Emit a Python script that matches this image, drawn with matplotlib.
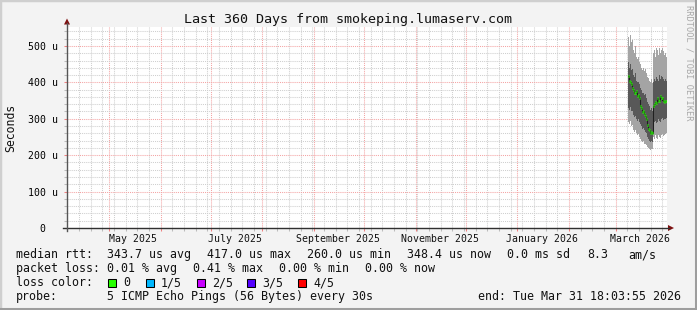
import matplotlib
matplotlib.use("Agg")
import matplotlib.pyplot as plt
import matplotlib.dates as mdates
from matplotlib.ticker import MultipleLocator, FuncFormatter, NullFormatter
from matplotlib.patches import Rectangle, Polygon
from matplotlib.lines import Line2D
from datetime import datetime, timedelta

# ---------------- data ----------------
end_time = datetime(2026, 3, 31, 18, 3, 55)
span_days = 360
start_time = end_time - timedelta(days=span_days)

sample_start = datetime(2026, 3, 8, 12, 0)   # first 12-hour sample
sample_step_hours = 12

# values in microseconds
median_us = [417, 405, 400, 395, 392, 385, 380, 372, 370, 375, 368, 362, 365, 358,
             335, 330, 322, 318, 320, 312, 308, 300, 290, 282, 272, 268, 262, 265, 260, 262,
             335, 340, 345, 342, 352, 358, 350, 348, 362, 358, 352, 356, 350, 345, 350, 348]
outer_hi_us = [525, 500, 530, 510, 495, 515, 490, 480, 500, 470, 485, 465, 470, 455,
               450, 440, 455, 435, 440, 430, 438, 425, 420, 415, 412, 405, 400, 408, 395, 398,
               480, 490, 470, 495, 485, 490, 475, 495, 480, 490, 470, 495, 485, 475, 480, 470]
outer_lo_us = [290, 285, 295, 280, 278, 282, 270, 265, 268, 260, 262, 255, 258, 250,
               245, 240, 242, 235, 238, 232, 230, 228, 225, 222, 220, 218, 215, 218, 213, 216,
               250, 245, 255, 248, 252, 245, 255, 250, 248, 255, 250, 258, 252, 255, 258, 260]
inner_hi_us = [455, 440, 450, 435, 430, 438, 420, 415, 425, 405, 410, 400, 402, 395,
               385, 380, 385, 370, 372, 365, 368, 358, 352, 345, 340, 335, 325, 330, 315, 320,
               400, 410, 405, 415, 412, 410, 405, 420, 410, 418, 412, 415, 410, 405, 410, 405]
inner_lo_us = [330, 325, 332, 320, 318, 322, 310, 305, 308, 300, 302, 295, 298, 290,
               285, 280, 282, 272, 275, 268, 265, 260, 255, 250, 245, 240, 235, 238, 232, 235,
               285, 290, 295, 288, 292, 290, 298, 295, 292, 300, 298, 302, 296, 298, 300, 302]

ytick_values = [0, 100, 200, 300, 400, 500]
y_max = 552
xlabel_months = [(2025, 5), (2025, 7), (2025, 9), (2025, 11), (2026, 1), (2026, 3)]
month_names = {1: "January", 3: "March", 5: "May", 7: "July", 9: "September", 11: "November"}

title = "Last 360 Days from smokeping.lumaserv.com"
ylabel = "Seconds"

rtt_label = "median rtt:"
rtt_items = ["343.7 us avg", "417.0 us max", "260.0 us min", "348.4 us now",
             "0.0 ms sd", "8.3", "am/s"]
loss_label = "packet loss:"
loss_items = ["0.01 % avg", "0.41 % max", "0.00 % min", "0.00 % now"]
color_label = "loss color:"
loss_color_names = ["0", "1/5", "2/5", "3/5", "4/5"]
loss_colors = ["#26ff00", "#00b8ff", "#c800ff", "#5400ff", "#ff0000"]
probe_label = "probe:"
probe_text = "5 ICMP Echo Pings (56 Bytes) every 30s"
end_text = "end: Tue Mar 31 18:03:55 2026"
watermark = "RRDTOOL / TOBI OETIKER"

# ---------------- layout (pixels) ----------------
W, H = 697, 310
PL, PR, PT, PB = 67, 667, 27, 228

def fx(px):
    return px / W

def fy(py):
    return 1 - py / H

mono = "DejaVu Sans Mono"
fig = plt.figure(figsize=(W / 100, H / 100), dpi=100)
fig.patch.set_facecolor("#f3f3f3")

# frame shading
fig.add_artist(Rectangle((0, 0), 1, 1, transform=fig.transFigure, fill=False,
                         edgecolor="#cfcfcf", linewidth=2.5))
fig.add_artist(Line2D([fx(0), fx(W)], [fy(H - 1), fy(H - 1)], transform=fig.transFigure,
                      color="#9e9e9e", linewidth=2.2))
fig.add_artist(Line2D([fx(W - 1), fx(W - 1)], [fy(0), fy(H)], transform=fig.transFigure,
                      color="#9e9e9e", linewidth=2.2))

ax = fig.add_axes([fx(PL), fy(PB), (PR - PL) / W, (PB - PT) / H])
ax.set_facecolor("white")
ax.set_xlim(mdates.date2num(start_time), mdates.date2num(end_time))
ax.set_ylim(0, y_max)
for s in ax.spines.values():
    s.set_visible(False)

# grid
ax.xaxis.set_major_locator(mdates.MonthLocator())
ax.xaxis.set_minor_locator(mdates.WeekdayLocator(byweekday=mdates.SU))
ax.xaxis.set_major_formatter(NullFormatter())
ax.yaxis.set_major_locator(MultipleLocator(100))
ax.yaxis.set_minor_locator(MultipleLocator(20))
ax.set_axisbelow(True)
ax.grid(which="minor", color="#cfcfcf", linestyle=(0, (1, 1)), linewidth=0.75)
ax.grid(which="major", color="#f4a4a4", linestyle=(0, (1, 1)), linewidth=0.75)
ax.tick_params(axis="x", which="major", direction="out", length=2, color="#f08080", width=0.75)
ax.tick_params(axis="x", which="minor", direction="out", length=2, color="#bbbbbb", width=0.75)
ax.tick_params(axis="y", which="major", direction="out", length=2, color="#f08080", width=0.75,
               labelsize=7.1, pad=4.5)
ax.tick_params(axis="y", which="minor", direction="out", length=2, color="#bbbbbb", width=0.75)
ax.set_yticks(ytick_values)
ax.yaxis.set_major_formatter(FuncFormatter(lambda v, p: "0  " if v == 0 else "%d u" % v))
for lab in ax.get_yticklabels():
    lab.set_fontfamily(mono)

# x labels at mid-month
for (yy, mm) in xlabel_months:
    t = datetime(yy, mm, 15, 12)
    ax.annotate("%s %d" % (month_names[mm], yy), xy=(mdates.date2num(t), 0),
                xycoords=("data", "axes fraction"), xytext=(0, -10.5),
                textcoords="offset pixels", ha="center", va="center",
                fontfamily=mono, fontsize=7.1, color="#111111")

# ---------------- smoke ----------------
times = [sample_start + timedelta(hours=i * sample_step_hours) for i in range(len(median_us))]
edges = times + [times[-1] + timedelta(hours=sample_step_hours)]
xe = mdates.date2num(edges)

def ext(a):
    return list(a) + [a[-1]]

ax.fill_between(xe, ext(outer_lo_us), ext(outer_hi_us), step="post",
                color="#a4a4a4", linewidth=0)
ax.fill_between(xe, ext(inner_lo_us), ext(inner_hi_us), step="post",
                color="#585858", linewidth=0)
ax.step(xe, ext(median_us), where="post", color="#202020", linewidth=0.75)
ax.hlines(median_us, xe[:-1], xe[1:], colors=loss_colors[0], linewidth=2.0)

# ---------------- axes lines and arrows ----------------
axis_col = "#303030"
fig.add_artist(Line2D([fx(63), fx(669)], [fy(PB), fy(PB)], transform=fig.transFigure,
                      color=axis_col, linewidth=1.0))
fig.add_artist(Line2D([fx(PL), fx(PL)], [fy(231), fy(23)], transform=fig.transFigure,
                      color="#555555", linewidth=1.0))
arrow_col = "#7f1010"
fig.add_artist(Polygon([[fx(PL - 3), fy(24.5)], [fx(PL + 3), fy(24.5)], [fx(PL), fy(18.5)]],
                       closed=True, transform=fig.transFigure, color=arrow_col, linewidth=0))
fig.add_artist(Polygon([[fx(668), fy(PB - 3)], [fx(668), fy(PB + 3)], [fx(674), fy(PB)]],
                       closed=True, transform=fig.transFigure, color=arrow_col, linewidth=0))

# ---------------- texts ----------------
fig.text(fx(348), fy(19.5), title, ha="center", va="center", fontfamily=mono,
         fontsize=9.6, color="#111111")
fig.text(fx(11), fy(127.5), ylabel, ha="center", va="center", rotation=90,
         fontfamily=mono, fontsize=8.3, color="#111111")
fig.text(fx(689), fy(5), watermark, ha="center", va="top", rotation=270,
         fontfamily=mono, fontsize=6.2, color="#a8a8a8")

fs = 8.4
tc = "#111111"
y1, y2, y3, y4 = 254.5, 268.5, 282.5, 296.5
fig.text(fx(16), fy(y1), rtt_label, ha="left", va="center", fontfamily=mono, fontsize=fs, color=tc)
for xp, s in zip([107, 207, 307, 407, 507, 587, 628], rtt_items):
    fig.text(fx(xp), fy(y1), s, ha="left", va="center", fontfamily=mono, fontsize=fs, color=tc)
fig.text(fx(16), fy(y2), loss_label, ha="left", va="center", fontfamily=mono, fontsize=fs, color=tc)
for xp, s in zip([107, 193, 279, 365], loss_items):
    fig.text(fx(xp), fy(y2), s, ha="left", va="center", fontfamily=mono, fontsize=fs, color=tc)
fig.text(fx(16), fy(y3), color_label, ha="left", va="center", fontfamily=mono, fontsize=fs, color=tc)
for xp, name, col in zip([108, 146, 197, 247, 298], loss_color_names, loss_colors):
    fig.add_artist(Rectangle((fx(xp), fy(y3 + 4.5)), 8 / W, 8 / H, transform=fig.transFigure,
                             facecolor=col, edgecolor="black", linewidth=0.75))
    fig.text(fx(xp + 15), fy(y3), name, ha="left", va="center", fontfamily=mono, fontsize=fs, color=tc)
fig.text(fx(16), fy(y4), probe_label, ha="left", va="center", fontfamily=mono, fontsize=fs, color=tc)
fig.text(fx(107), fy(y4), probe_text, ha="left", va="center", fontfamily=mono, fontsize=fs, color=tc)
fig.text(fx(478), fy(y4), end_text, ha="left", va="center", fontfamily=mono, fontsize=fs, color=tc)

fig.savefig("out.png", dpi=100, facecolor=fig.get_facecolor())
